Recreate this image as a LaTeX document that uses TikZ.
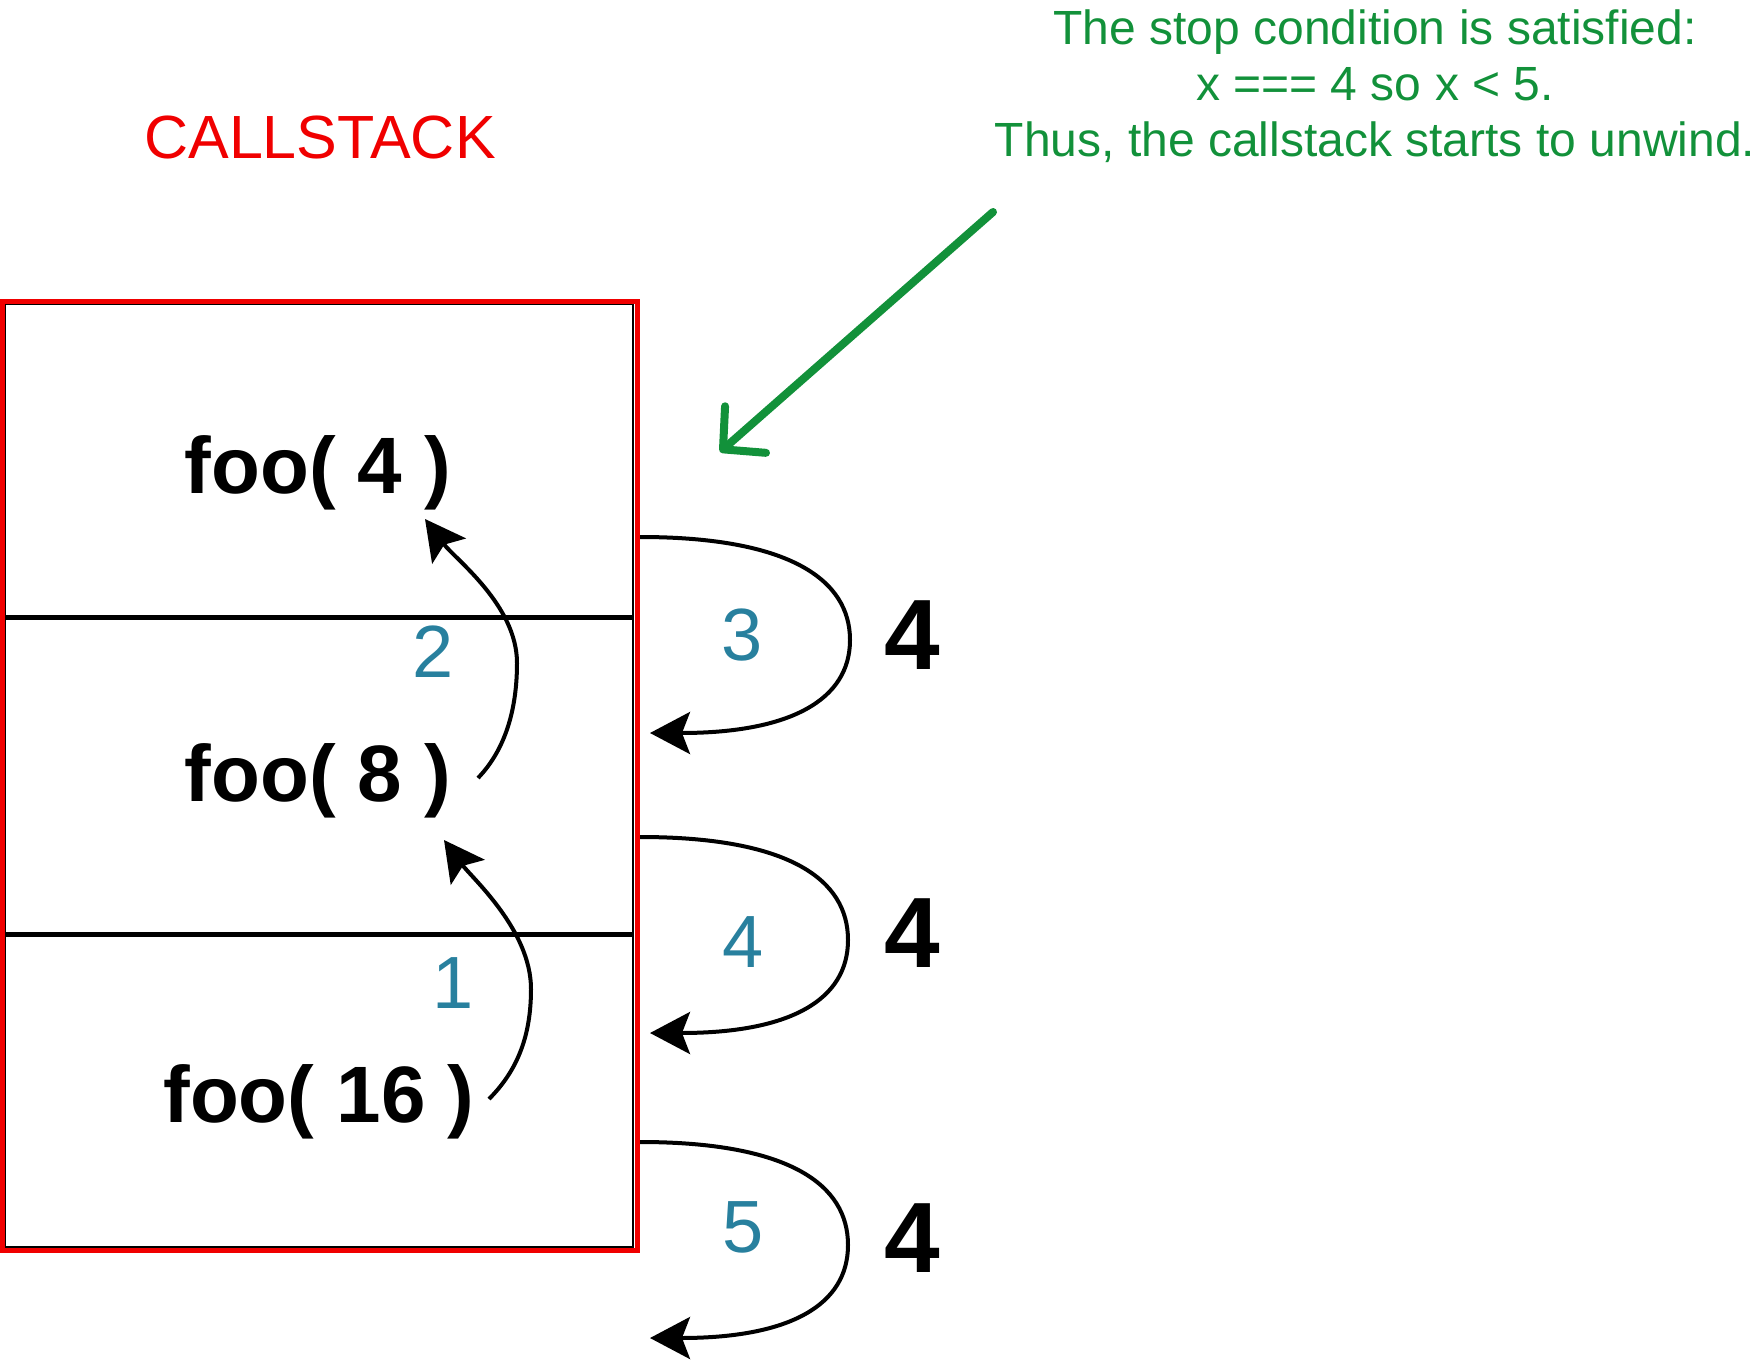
\documentclass[tikz,border=0pt]{standalone}
\usepackage{fontspec}
\setmainfont{Liberation Sans}
\usetikzlibrary{arrows.meta}
\definecolor{stackred}{RGB}{240,0,0}
\definecolor{numblue}{RGB}{40,128,158}
\definecolor{notegreen}{RGB}{18,145,58}
\begin{document}
\begin{tikzpicture}[x=0.5pt,y=-0.5pt,
  frame/.style={draw=stackred,line width=2.5pt},
  innerframe/.style={draw=black,line width=1.2pt},
  divider/.style={draw=black,line width=2.5pt},
  fooname/.style={font=\fontsize{40}{48}\selectfont\bfseries,inner sep=0pt},
  stepnum/.style={font=\fontsize{37}{44}\selectfont,text=numblue,inner sep=0pt},
  retval/.style={font=\fontsize{50}{60}\selectfont\bfseries,inner sep=0pt},
  callarrow/.style={draw=black,line width=2pt,-{Stealth[length=20pt,width=21pt,inset=4pt]}},
  notearrow/.style={draw=notegreen,line width=4pt,line cap=round,-{Straight Barb[length=15pt,width=31pt,round]}}
]
\useasboundingbox (0,0) rectangle (1762,1365);

% title
\node[text=stackred,font=\fontsize{30.5}{36}\selectfont,inner sep=0pt] (title) at (320,138) {CALLSTACK};

% note
\node[text=notegreen,font=\fontsize{24}{28}\selectfont,align=center,inner sep=0pt] (note) at (1375,86)
  {The stop condition is satisfied:\\x === 4 so x < 5.\\Thus, the callstack starts to unwind.};

% stack frame
\draw[innerframe] (5,304) rectangle (633,1247);
\draw[divider] (5,617) -- (634,617);
\draw[divider] (5,934) -- (634,934);
\draw[frame] (2,301) rectangle (637,1250);

% frame labels
\node[fooname] (f4) at (318,473) {foo( 4 )};
\node[fooname] (f8) at (318,781) {foo( 8 )};
\node[fooname] (f16) at (319,1102) {foo( 16 )};

% call arrows
\coordinate (c1s) at (489,1099);
\coordinate (c1t) at (444,840);
\coordinate (c2s) at (478,778);
\coordinate (c2t) at (425,519);
\draw[callarrow] (c1s) .. controls (518,1070) and (531,1035) .. (531,989)
  .. controls (531,930) and (472,878) .. (c1t);
\draw[callarrow] (c2s) .. controls (505,750) and (517,710) .. (517,663)
  .. controls (517,605) and (455,559) .. (c2t);

% return arrows
\coordinate (r3s) at (640,537);  \coordinate (r3t) at (650,733);
\coordinate (r4s) at (640,837);  \coordinate (r4t) at (650,1033);
\coordinate (r5s) at (640,1142); \coordinate (r5t) at (650,1338);
\draw[callarrow] (r3s) .. controls (790,537) and (850,580) .. (850,640)
  .. controls (850,700) and (790,733) .. (r3t);
\draw[callarrow] (r4s) .. controls (790,837) and (848,880) .. (848,940)
  .. controls (848,1000) and (790,1033) .. (r4t);
\draw[callarrow] (r5s) .. controls (790,1142) and (848,1185) .. (848,1245)
  .. controls (848,1305) and (790,1338) .. (r5t);

% step numbers
\node[stepnum] (n1) at (453,983) {1};
\node[stepnum] (n2) at (433,652) {2};
\node[stepnum] (n3) at (742,635) {3};
\node[stepnum] (n4) at (743,942) {4};
\node[stepnum] (n5) at (743,1227) {5};

% return values
\node[retval] (v3) at (912,635) {4};
\node[retval] (v4) at (912,933) {4};
\node[retval] (v5) at (912,1238) {4};

% green pointer
\coordinate (gs) at (993,212);
\coordinate (gt) at (720,452);
\draw[notearrow] (gs) -- (gt);
\end{tikzpicture}
\end{document}
